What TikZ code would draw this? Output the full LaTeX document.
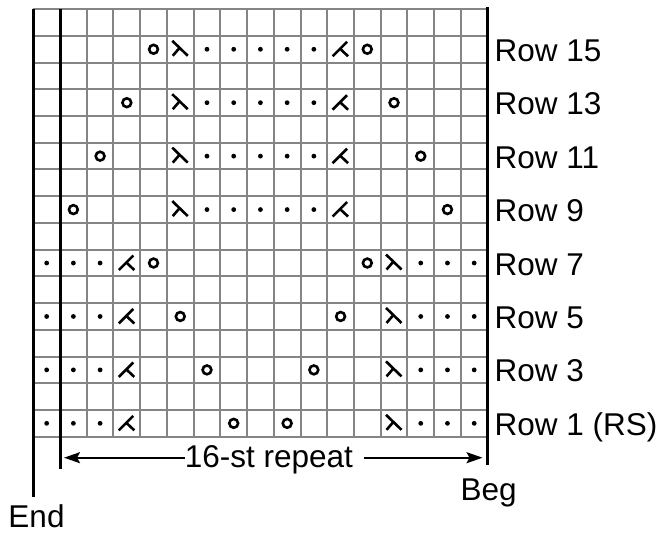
\documentclass[tikz,border=0pt]{standalone}
\usepackage{fontspec}
\setmainfont{Liberation Sans}
\usetikzlibrary{arrows.meta}

\begin{document}
\begin{tikzpicture}[x=26.72bp,y=26.72bp,
  gridline/.style={draw=black!48,line width=2bp},
  edgeline/.style={line width=3bp},
  stitch/.style={line width=2.6bp},
  lbl/.style={font=\fontsize{31.5bp}{36bp}\selectfont,inner sep=0pt},
  reparrow/.style={line width=2bp,-{Stealth[length=16bp,width=11bp,inset=3bp]}}]
\useasboundingbox (-33.3bp,-96.3bp) rectangle (630.7bp,436.7bp);

% chart grid
\foreach \i in {0,...,17} \draw[gridline] (\i,0)--(\i,16);
\foreach \j in {0,...,16} \draw[gridline] (0,\j)--(17,\j);

\draw[edgeline] (0,16)--(0,-2.26);
\draw[edgeline] (1,16)--(1,-1.21);
\draw[edgeline] (17,16.08)--(17,-1.06);

% purl dots
\foreach \r in {1,3,5,7}
  \foreach \c in {1,2,3,15,16,17}
    \fill (\c-0.5,\r-0.5) circle (2.4bp);
\foreach \r in {9,11,13,15}
  \foreach \c in {7,...,11}
    \fill (\c-0.5,\r-0.5) circle (2.4bp);

% yarn overs
\foreach \r/\a/\b in {1/8/10,3/7/11,5/6/12,7/5/13,9/2/16,11/3/15,13/4/14,15/5/13} {
  \draw[stitch] (\a-0.5,\r-0.5) circle (4.4bp);
  \draw[stitch] (\b-0.5,\r-0.5) circle (4.4bp);
}

% decreases
\foreach \r/\a/\b in {1/4/14,3/4/14,5/4/14,7/4/14,9/12/6,11/12/6,13/12/6,15/12/6} {
  \draw[stitch,shift={(\a-0.5,\r-0.5)}] (6.5bp,7.5bp)--(-8bp,-7bp) (-0.5bp,0.5bp)--(7.5bp,-7bp);
  \draw[stitch,shift={(\b-0.5,\r-0.5)}] (-8bp,8.5bp)--(7.5bp,-6.5bp) (-1bp,1bp)--(-7.5bp,-6.5bp);
}

% labels
\node[lbl,anchor=base west] (row1) at (17.26,0.05) {Row 1 (RS)};
\foreach \r in {3,5,...,15}
  \node[lbl,anchor=base west] (row\r) at (17.26,\r-0.95) {Row \r};

\node[lbl,anchor=base] (rep) at (8.82,-1.17) {16-st repeat};
\coordinate (repl) at (1,-0.786);
\coordinate (repr) at (17,-0.786);
\draw[reparrow,shorten >=4bp] (rep.west |- repl) -- (repl);
\draw[reparrow,shorten <=11bp,shorten >=5bp] (rep.east |- repr) -- (repr);

\node[lbl,anchor=base] (beg) at (17.04,-2.37) {Beg};
\node[lbl,anchor=base] (end) at (0.12,-3.38) {End};
\end{tikzpicture}
\end{document}
